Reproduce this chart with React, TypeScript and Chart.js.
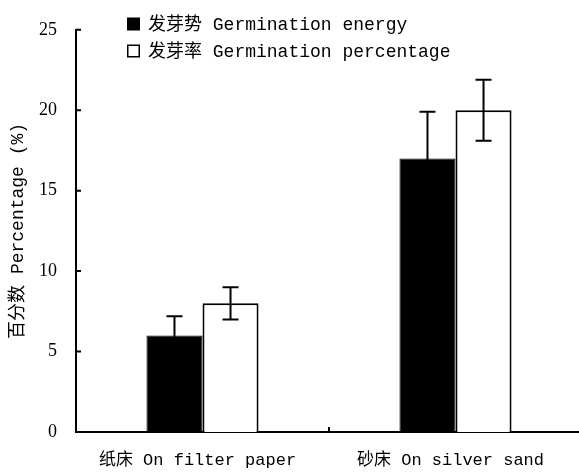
import { useEffect, useRef } from "react";
import { Chart, registerables } from "chart.js";

Chart.register(...registerables);

// Germination results on two seed beds (mean ± error)
const categories = ["纸床 On filter paper", "砂床 On silver sand"];
const seriesLabels = ["发芽势 Germination energy", "发芽率 Germination percentage"];
const energyValues = [6, 17];
const energyErrors = [1.2, 2.9];
const percentageValues = [8, 20];
const percentageErrors = [1.0, 1.9];
const yTickValues = [0, 5, 10, 15, 20, 25];
const yTitle = "百分数 Percentage (%)";

const MONO = "'Liberation Mono', 'Noto Sans CJK SC', monospace";
const SERIF = "'Liberation Serif', serif";

// Vertical error bars with caps, drawn over every bar
const errorBarsPlugin = {
  id: "errorBars",
  afterDatasetsDraw(chart: any) {
    const ctx = chart.ctx;
    const y = chart.scales.y;
    chart.data.datasets.forEach((ds: any, di: number) => {
      const meta = chart.getDatasetMeta(di);
      meta.data.forEach((bar: any, i: number) => {
        const v = ds.data[i];
        const e = ds.errors[i];
        const top = y.getPixelForValue(v + e);
        const bot = y.getPixelForValue(v - e);
        const x = bar.x;
        ctx.save();
        ctx.strokeStyle = "#000";
        ctx.lineWidth = 2;
        ctx.beginPath();
        ctx.moveTo(x, top);
        ctx.lineTo(x, bot);
        ctx.moveTo(x - 8, top);
        ctx.lineTo(x + 8, top);
        ctx.moveTo(x - 8, bot);
        ctx.lineTo(x + 8, bot);
        ctx.stroke();
        ctx.restore();
      });
    });
  },
};

// Inward tick marks on the y axis and the category divider on the x axis
const innerTicksPlugin = {
  id: "innerTicks",
  afterDraw(chart: any) {
    const ctx = chart.ctx;
    const { left, bottom } = chart.chartArea;
    const y = chart.scales.y;
    const x = chart.scales.x;
    ctx.save();
    ctx.strokeStyle = "#000";
    ctx.lineWidth = 2;
    ctx.beginPath();
    yTickValues.forEach((v) => {
      const py = y.getPixelForValue(v);
      ctx.moveTo(left, py);
      ctx.lineTo(left + 5, py);
    });
    for (let i = 0; i < categories.length - 1; i++) {
      const px = (x.getPixelForValue(i) + x.getPixelForValue(i + 1)) / 2;
      ctx.moveTo(px, bottom);
      ctx.lineTo(px, bottom - 5);
    }
    ctx.stroke();
    ctx.restore();
  },
};

// Legend in the upper left of the plot
const legendPlugin = {
  id: "boxLegend",
  afterDraw(chart: any) {
    const ctx = chart.ctx;
    const rows = [24, 51];
    ctx.save();
    ctx.font = `18px ${MONO}`;
    ctx.textBaseline = "middle";
    ctx.fillStyle = "#000";
    chart.data.datasets.forEach((ds: any, i: number) => {
      const cy = rows[i];
      if (ds.backgroundColor === "#000") {
        ctx.fillRect(127, cy - 6.5, 13, 13);
      } else {
        ctx.lineWidth = 1.5;
        ctx.strokeStyle = "#000";
        ctx.strokeRect(127.75, cy - 5.75, 11.5, 11.5);
      }
      ctx.fillText(ds.label, 148, cy + 1);
    });
    ctx.restore();
  },
};

export default function App() {
  const canvasRef = useRef<HTMLCanvasElement | null>(null);

  useEffect(() => {
    if (!canvasRef.current) return;
    const chart = new Chart(canvasRef.current, {
      type: "bar",
      data: {
        labels: categories,
        datasets: [
          {
            label: seriesLabels[0],
            data: energyValues,
            errors: energyErrors,
            backgroundColor: "#000",
            borderColor: "#000",
            borderWidth: 1,
            categoryPercentage: 0.443,
            barPercentage: 1.0,
          } as any,
          {
            label: seriesLabels[1],
            data: percentageValues,
            errors: percentageErrors,
            backgroundColor: "#fff",
            borderColor: "#000",
            borderWidth: 2,
            categoryPercentage: 0.443,
            barPercentage: 1.0,
          } as any,
        ],
      },
      options: {
        responsive: false,
        maintainAspectRatio: false,
        devicePixelRatio: 1,
        animation: false,
        layout: { padding: { top: 22, left: 0, right: 0, bottom: 0 } },
        plugins: {
          legend: { display: false },
          tooltip: { enabled: false },
          title: { display: false },
        },
        scales: {
          x: {
            grid: { display: false, drawTicks: false },
            border: { display: true, color: "#000", width: 2 },
            ticks: {
              color: "#000",
              font: { family: MONO, size: 17 },
              padding: 18,
              labelOffset: -5,
              maxRotation: 0,
              autoSkip: false,
            },
            afterFit(scale: any) {
              scale.height = 40;
            },
          },
          y: {
            min: 0,
            max: 25,
            afterBuildTicks(scale: any) {
              scale.ticks = yTickValues.map((v) => ({ value: v }));
            },
            grid: { display: false, drawTicks: false },
            border: { display: true, color: "#000", width: 2 },
            ticks: {
              color: "#000",
              font: { family: SERIF, size: 18 },
              padding: 19,
            },
            title: {
              display: true,
              text: yTitle,
              color: "#000",
              font: { family: MONO, size: 18 },
              padding: { top: 7, bottom: 0 },
            },
            afterFit(scale: any) {
              scale.width = 76;
            },
          },
        },
      },
      plugins: [errorBarsPlugin, innerTicksPlugin, legendPlugin],
    });
    return () => chart.destroy();
  }, []);

  return (
    <div
      style={{
        position: "fixed",
        left: 0,
        top: 0,
        width: 582,
        height: 472,
        background: "#fff",
      }}
    >
      <canvas ref={canvasRef} width={582} height={472} style={{ display: "block" }} />
    </div>
  );
}
